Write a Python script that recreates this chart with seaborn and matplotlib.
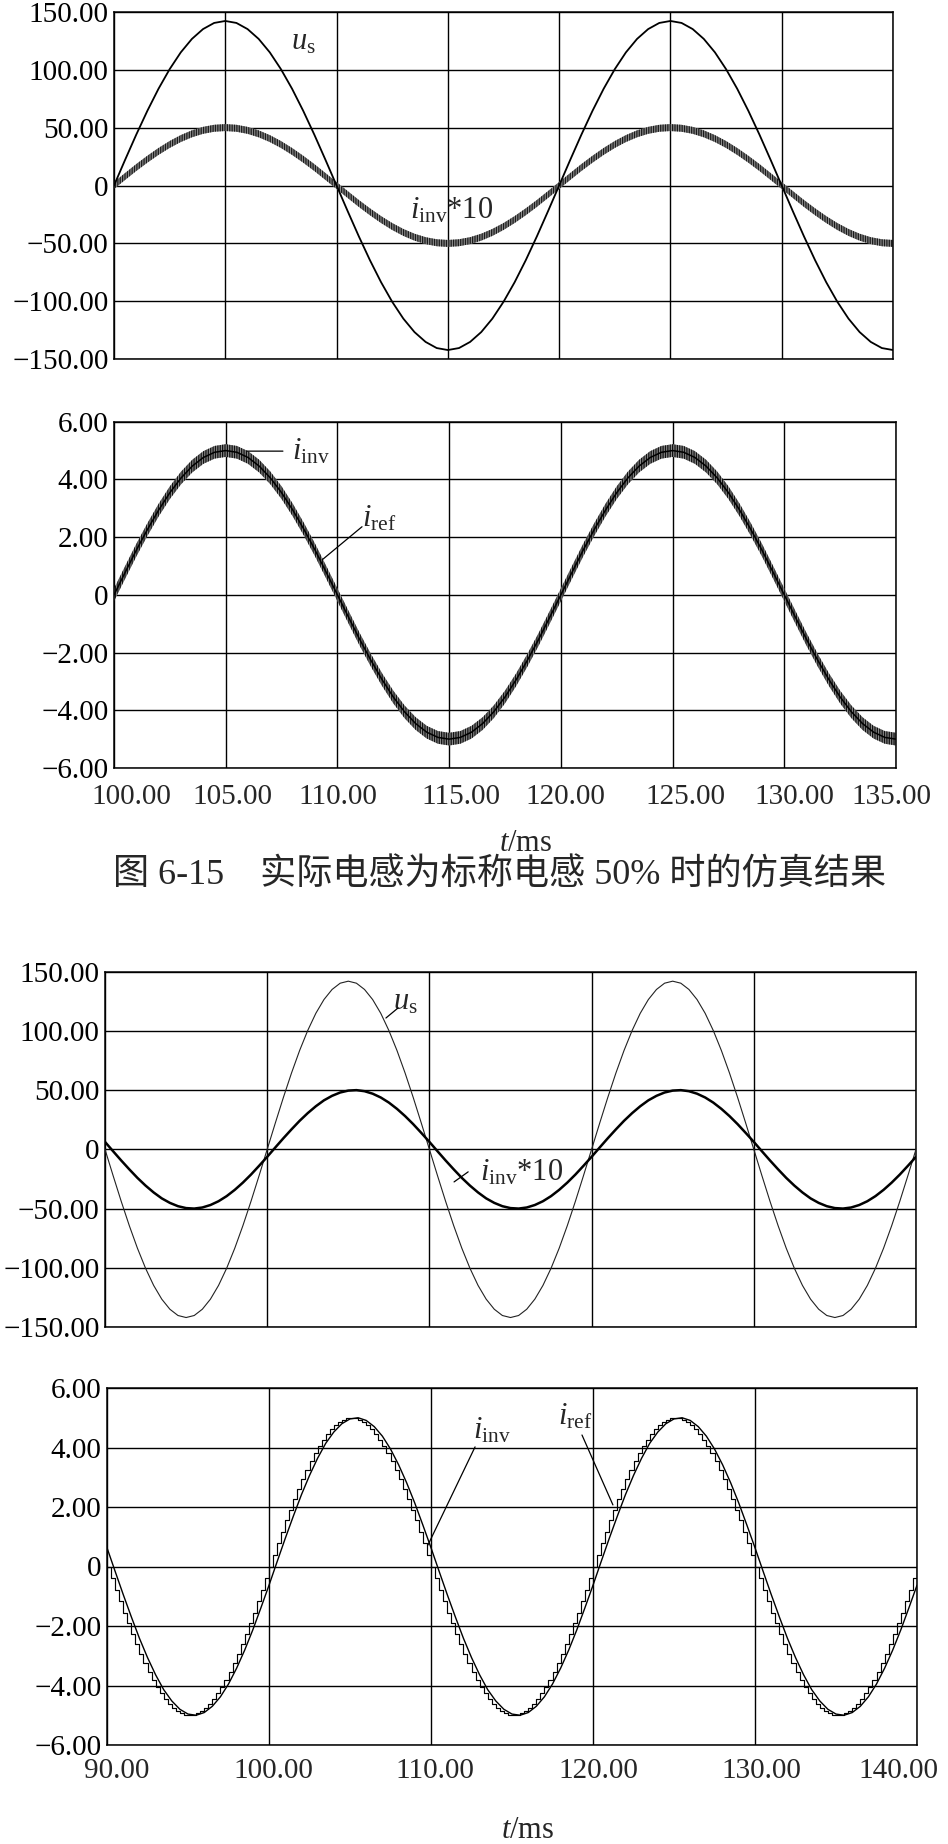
import numpy as np
import matplotlib
matplotlib.use("Agg")
import matplotlib.pyplot as plt
import seaborn as sns
from matplotlib.transforms import ScaledTranslation

# ------------------------------------------------------------------ data
# Figure 6-15 (upper chart): t = 100 ... 135 ms, sampled every 0.5 ms
t_a_start, t_a_step = 100.0, 0.5
u_s_a = [
    0, 22.2, 43.9, 64.5, 83.5, 100.4, 114.9, 126.5, 135.0, 140.3,
    142.0, 140.3, 135.0, 126.5, 114.9, 100.4, 83.5, 64.5, 43.9, 22.2,
    0, -22.2, -43.9, -64.5, -83.5, -100.4, -114.9, -126.5, -135.0, -140.3,
    -142.0, -140.3, -135.0, -126.5, -114.9, -100.4, -83.5, -64.5, -43.9, -22.2,
    0, 22.2, 43.9, 64.5, 83.5, 100.4, 114.9, 126.5, 135.0, 140.3,
    142.0, 140.3, 135.0, 126.5, 114.9, 100.4, 83.5, 64.5, 43.9, 22.2,
    0, -22.2, -43.9, -64.5, -83.5, -100.4, -114.9, -126.5, -135.0, -140.3,
    -142.0]
i_inv_a = [
    0, 0.78, 1.55, 2.27, 2.94, 3.54, 4.05, 4.46, 4.76, 4.94,
    5.00, 4.94, 4.76, 4.46, 4.05, 3.54, 2.94, 2.27, 1.55, 0.78,
    0, -0.78, -1.55, -2.27, -2.94, -3.54, -4.05, -4.46, -4.76, -4.94,
    -5.00, -4.94, -4.76, -4.46, -4.05, -3.54, -2.94, -2.27, -1.55, -0.78,
    0, 0.78, 1.55, 2.27, 2.94, 3.54, 4.05, 4.46, 4.76, 4.94,
    5.00, 4.94, 4.76, 4.46, 4.05, 3.54, 2.94, 2.27, 1.55, 0.78,
    0, -0.78, -1.55, -2.27, -2.94, -3.54, -4.05, -4.46, -4.76, -4.94,
    -5.00]
i_ref_a = [
    0, 0.78, 1.55, 2.27, 2.94, 3.54, 4.05, 4.46, 4.76, 4.94,
    5.00, 4.94, 4.76, 4.46, 4.05, 3.54, 2.94, 2.27, 1.55, 0.78,
    0, -0.78, -1.55, -2.27, -2.94, -3.54, -4.05, -4.46, -4.76, -4.94,
    -5.00, -4.94, -4.76, -4.46, -4.05, -3.54, -2.94, -2.27, -1.55, -0.78,
    0, 0.78, 1.55, 2.27, 2.94, 3.54, 4.05, 4.46, 4.76, 4.94,
    5.00, 4.94, 4.76, 4.46, 4.05, 3.54, 2.94, 2.27, 1.55, 0.78,
    0, -0.78, -1.55, -2.27, -2.94, -3.54, -4.05, -4.46, -4.76, -4.94,
    -5.00]
ripple_a_top = 0.30      # switching ripple half-band of i_inv (A), upper plot
ripple_a_bot = 0.22      # switching ripple half-band of i_inv (A), lower plot

# Lower chart: t = 90 ... 140 ms, sampled every 0.5 ms (i_ref every 0.25 ms)
t_b_start, t_b_step = 90.0, 0.5
t_r_start, t_r_step = 90.0, 0.25
u_s_b = [
    0, -22.2, -43.9, -64.5, -83.5, -100.4, -114.9, -126.5, -135.0, -140.3,
    -142.0, -140.3, -135.0, -126.5, -114.9, -100.4, -83.5, -64.5, -43.9, -22.2,
    0, 22.2, 43.9, 64.5, 83.5, 100.4, 114.9, 126.5, 135.0, 140.3,
    142.0, 140.3, 135.0, 126.5, 114.9, 100.4, 83.5, 64.5, 43.9, 22.2,
    0, -22.2, -43.9, -64.5, -83.5, -100.4, -114.9, -126.5, -135.0, -140.3,
    -142.0, -140.3, -135.0, -126.5, -114.9, -100.4, -83.5, -64.5, -43.9, -22.2,
    0, 22.2, 43.9, 64.5, 83.5, 100.4, 114.9, 126.5, 135.0, 140.3,
    142.0, 140.3, 135.0, 126.5, 114.9, 100.4, 83.5, 64.5, 43.9, 22.2,
    0, -22.2, -43.9, -64.5, -83.5, -100.4, -114.9, -126.5, -135.0, -140.3,
    -142.0, -140.3, -135.0, -126.5, -114.9, -100.4, -83.5, -64.5, -43.9, -22.2,
    0]
i_inv_b = [
    0.63,
    -0.16, -0.94, -1.69, -2.41, -3.06, -3.64, -4.14, -4.52, -4.80, -4.96,
    -5.00, -4.91, -4.70, -4.38, -3.95, -3.42, -2.81, -2.13, -1.39, -0.63,
    0.16, 0.94, 1.69, 2.41, 3.06, 3.64, 4.14, 4.52, 4.80, 4.96,
    5.00, 4.91, 4.70, 4.38, 3.95, 3.42, 2.81, 2.13, 1.39, 0.63,
    -0.16, -0.94, -1.69, -2.41, -3.06, -3.64, -4.14, -4.52, -4.80, -4.96,
    -5.00, -4.91, -4.70, -4.38, -3.95, -3.42, -2.81, -2.13, -1.39, -0.63,
    0.16, 0.94, 1.69, 2.41, 3.06, 3.64, 4.14, 4.52, 4.80, 4.96,
    5.00, 4.91, 4.70, 4.38, 3.95, 3.42, 2.81, 2.13, 1.39, 0.63,
    -0.16, -0.94, -1.69, -2.41, -3.06, -3.64, -4.14, -4.52, -4.80, -4.96,
    -5.00, -4.91, -4.70, -4.38, -3.95, -3.42, -2.81, -2.13, -1.39, -0.63]
i_ref_b = [
    0, -0.39, -0.78, -1.17, -1.55, -1.91, -2.27, -2.61, -2.94, -3.25,
    -3.54, -3.80, -4.05, -4.26, -4.46, -4.62, -4.76, -4.86, -4.94, -4.98,
    -5.00, -4.98, -4.94, -4.86, -4.76, -4.62, -4.46, -4.26, -4.05, -3.80,
    -3.54, -3.25, -2.94, -2.61, -2.27, -1.91, -1.55, -1.17, -0.78, -0.39,
    0, 0.39, 0.78, 1.17, 1.55, 1.91, 2.27, 2.61, 2.94, 3.25,
    3.54, 3.80, 4.05, 4.26, 4.46, 4.62, 4.76, 4.86, 4.94, 4.98,
    5.00, 4.98, 4.94, 4.86, 4.76, 4.62, 4.46, 4.26, 4.05, 3.80,
    3.54, 3.25, 2.94, 2.61, 2.27, 1.91, 1.55, 1.17, 0.78, 0.39,
    0, -0.39, -0.78, -1.17, -1.55, -1.91, -2.27, -2.61, -2.94, -3.25,
    -3.54, -3.80, -4.05, -4.26, -4.46, -4.62, -4.76, -4.86, -4.94, -4.98,
    -5.00, -4.98, -4.94, -4.86, -4.76, -4.62, -4.46, -4.26, -4.05, -3.80,
    -3.54, -3.25, -2.94, -2.61, -2.27, -1.91, -1.55, -1.17, -0.78, -0.39,
    0, 0.39, 0.78, 1.17, 1.55, 1.91, 2.27, 2.61, 2.94, 3.25,
    3.54, 3.80, 4.05, 4.26, 4.46, 4.62, 4.76, 4.86, 4.94, 4.98,
    5.00, 4.98, 4.94, 4.86, 4.76, 4.62, 4.46, 4.26, 4.05, 3.80,
    3.54, 3.25, 2.94, 2.61, 2.27, 1.91, 1.55, 1.17, 0.78, 0.39,
    0, -0.39, -0.78, -1.17, -1.55, -1.91, -2.27, -2.61, -2.94, -3.25,
    -3.54, -3.80, -4.05, -4.26, -4.46, -4.62, -4.76, -4.86, -4.94, -4.98,
    -5.00, -4.98, -4.94, -4.86, -4.76, -4.62, -4.46, -4.26, -4.05, -3.80,
    -3.54, -3.25, -2.94, -2.61, -2.27, -1.91, -1.55, -1.17, -0.78, -0.39,
    0]

# ticks
xticks_a = [100, 105, 110, 115, 120, 125, 130, 135]
xticklabels_a = ["100.00", "105.00", "110.00", "115.00", "120.00", "125.00", "130.00", "135.00"]
xticks_b = [90, 100, 110, 120, 130, 140]
xticklabels_b = ["90.00", "100.00", "110.00", "120.00", "130.00", "140.00"]
yticks_u = [150, 100, 50, 0, -50, -100, -150]
yticklabels_u = ["150.00", "100.00", "50.00", "0", "\u221250.00", "\u2212100.00", "\u2212150.00"]
yticks_i = [6, 4, 2, 0, -2, -4, -6]
yticklabels_i = ["6.00", "4.00", "2.00", "0", "\u22122.00", "\u22124.00", "\u22126.00"]

caption = "图 6-15    实际电感为标称电感 50% 时的仿真结果"
xlabel = r"$t$/ms"

# ------------------------------------------------------------------ style
sns.set_style("white")
plt.rcParams.update({
    "font.family": ["Liberation Serif", "Noto Sans CJK SC", "DejaVu Sans"],
    "mathtext.fontset": "custom",
    "mathtext.rm": "Liberation Serif",
    "mathtext.it": "Liberation Serif:italic",
    "mathtext.bf": "Liberation Serif:bold",
    "axes.unicode_minus": True,
    "hatch.linewidth": 0.9,
})

W, H = 948, 1844
fig = plt.figure(figsize=(W / 100, H / 100), dpi=100)
fig.patch.set_facecolor("white")


def axes_px(l, t, r, b):
    return fig.add_axes([l / W, 1 - b / H, (r - l) / W, (b - t) / H])


TICK_FS = 21
LAB_FS = 22


def style_axes(ax, xlim, ylim, xt, xtl, yt, ytl, xoffs=None, xpad_px=12):
    ax.set_xlim(*xlim)
    ax.set_ylim(*ylim)
    ax.set_xticks(xt)
    ax.set_yticks(yt)
    ax.set_yticklabels(ytl, fontsize=TICK_FS)
    ax.set_xticklabels([])
    if xtl is not None:
        offs = xoffs if xoffs is not None else [0] * len(xt)
        for x, lab, dx in zip(xt, xtl, offs):
            tr = ax.get_xaxis_transform() + ScaledTranslation(
                dx / 100, -xpad_px / 100, fig.dpi_scale_trans)
            ax.text(x, 0, lab, transform=tr, ha="center", va="top",
                    fontsize=TICK_FS, clip_on=False)
    ax.tick_params(axis="both", length=0, colors="k")
    ax.tick_params(axis="y", pad=4)
    ax.grid(True, color="k", lw=1.0)
    ax.set_axisbelow(True)
    for sp in ax.spines.values():
        sp.set_visible(True)
        sp.set_color("k")
        sp.set_linewidth(1.1)
    ax.set_xlabel("")
    ax.set_ylabel("")


def leader(ax, start, end):
    ax.annotate("", xy=end, xytext=start,
                arrowprops=dict(arrowstyle="-", lw=0.9, color="k",
                                shrinkA=0, shrinkB=0), zorder=6)


# ---------------------------------------------------------------- panel 1
t_a = t_a_start + t_a_step * np.arange(len(u_s_a))
ax1 = axes_px(114, 11.7, 893, 359.3)
i10 = 10 * np.asarray(i_inv_a)
ax1.fill_between(t_a, i10 - 10 * ripple_a_top, i10 + 10 * ripple_a_top,
                 facecolor="#8c8c8c", edgecolor="#1a1a1a", hatch="|||||||",
                 linewidth=0, zorder=2)
sns.lineplot(x=t_a, y=u_s_a, ax=ax1, color="k", lw=1.3,
             estimator=None, sort=False, zorder=3)
style_axes(ax1, (100, 135), (-150, 150), xticks_a, None, yticks_u, yticklabels_u)
ax1.text(108.5, 124, r"$u_{\mathrm{s}}$", fontsize=LAB_FS, ha="center", va="center")
ax1.text(113.3, -22, r"$i_{\mathrm{inv}}$*10", fontsize=LAB_FS, ha="left", va="center")

# ---------------------------------------------------------------- panel 2
ax2 = axes_px(114, 421.7, 896, 768)
ia = np.asarray(i_inv_a)
ax2.fill_between(t_a, ia - ripple_a_bot, ia + ripple_a_bot,
                 facecolor="#8a8a8a", edgecolor="#111111", hatch="|||||||",
                 linewidth=0, zorder=2)
sns.lineplot(x=t_a, y=i_ref_a, ax=ax2, color="k", lw=1.1,
             estimator=None, sort=False, zorder=3)
style_axes(ax2, (100, 135), (-6, 6), xticks_a, xticklabels_a, yticks_i, yticklabels_i,
           xoffs=[17, 7, 0, 12, 5, 13, 10, -5], xpad_px=16.5)
ax2.text(107.97, 4.95, r"$i_{\mathrm{inv}}$", fontsize=LAB_FS, ha="left", va="center")
leader(ax2, (107.56, 4.98), (105.95, 4.98))
ax2.text(111.1, 2.62, r"$i_{\mathrm{ref}}$", fontsize=LAB_FS, ha="left", va="center")
leader(ax2, (111.1, 2.36), (109.31, 1.21))
fig.text(526 / W, 1 - 843 / H, xlabel, fontsize=LAB_FS, ha="center", va="center")

# caption
fig.text(500 / W, 1 - 876 / H, caption, fontsize=26, ha="center", va="center")

# ---------------------------------------------------------------- panel 3
t_b = t_b_start + t_b_step * np.arange(len(u_s_b))
ax3 = axes_px(105, 971.7, 916, 1327)
sns.lineplot(x=t_b, y=u_s_b, ax=ax3, color="#222222", lw=0.8,
             estimator=None, sort=False, zorder=3)
sns.lineplot(x=t_b, y=10 * np.asarray(i_inv_b), ax=ax3, color="k", lw=1.8,
             estimator=None, sort=False, zorder=4)
style_axes(ax3, (90, 140), (-150, 150), xticks_b, None, yticks_u, yticklabels_u)
ax3.text(107.76, 124, r"$u_{\mathrm{s}}$", fontsize=LAB_FS, ha="left", va="center")
leader(ax3, (108.06, 119.3), (107.32, 110.9))
ax3.text(113.1, -20, r"$i_{\mathrm{inv}}$*10", fontsize=LAB_FS, ha="left", va="center")
leader(ax3, (112.39, -19.0), (111.52, -27.5))

# ---------------------------------------------------------------- panel 4
t_r = t_r_start + t_r_step * np.arange(len(i_ref_b))
ax4 = axes_px(107, 1388, 917, 1745)
sns.lineplot(x=t_b, y=i_inv_b, ax=ax4, color="k", lw=1.0,
             estimator=None, sort=False, zorder=3)
sns.lineplot(x=t_r, y=i_ref_b, ax=ax4, color="k", lw=0.85, drawstyle="steps-post",
             estimator=None, sort=False, zorder=3)
style_axes(ax4, (90, 140), (-6, 6), xticks_b, xticklabels_b, yticks_i, yticklabels_i,
           xoffs=[10, 4, 4, 5, 6, -19], xpad_px=12.5)
ax4.text(112.59, 4.55, r"$i_{\mathrm{inv}}$", fontsize=LAB_FS, ha="left", va="center")
leader(ax4, (112.72, 4.02), (109.81, 0.72))
ax4.text(117.84, 5.02, r"$i_{\mathrm{ref}}$", fontsize=LAB_FS, ha="left", va="center")
leader(ax4, (119.32, 4.42), (121.23, 2.07))
fig.text(528 / W, 1 - 1830 / H, xlabel, fontsize=LAB_FS, ha="center", va="center")

fig.savefig("out.png", dpi=100, facecolor="white")
